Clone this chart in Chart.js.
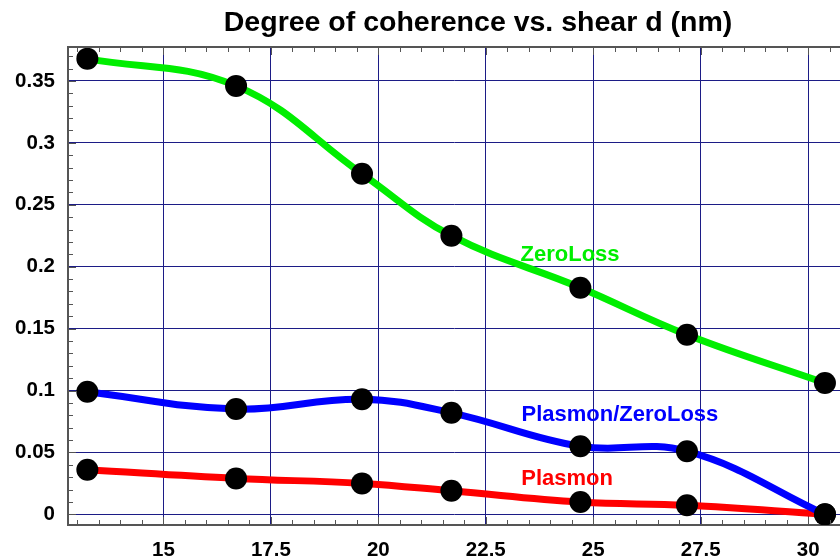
<!DOCTYPE html>
<html>
<head>
<title>Degree of coherence</title>
<style>
html, body { margin:0; padding:0; background:#fff; overflow:hidden; }
canvas { display:block; }
</style>
</head>
<body>
<script src="https://cdn.jsdelivr.net/npm/chart.js"></script>
<canvas id="myChart" width="840" height="560"></canvas>
<script>
// shear d (nm)
var shear = [13.23, 16.69, 19.62, 21.7, 24.7, 27.18, 30.39]
var zeroLoss = [0.368, 0.346, 0.275, 0.225, 0.183, 0.145, 0.106]
var ratio = [0.099, 0.085, 0.093, 0.082, 0.055, 0.051, 0.0]
var plasmon = [0.036, 0.029, 0.025, 0.019, 0.0099, 0.0073, 0.0]
var xTicks = [15, 17.5, 20, 22.5, 25, 27.5, 30]
var yTicks = [0, 0.05, 0.1, 0.15, 0.2, 0.25, 0.3, 0.35]

// curve labels (data units)
var tags = [
    {text: 'ZeroLoss', color: '#00ee00', x: 24.46, y: 0.2097},
    {text: 'Plasmon/ZeroLoss', color: '#0000ff', x: 25.62, y: 0.0806},
    {text: 'Plasmon', color: '#ff0000', x: 24.39, y: 0.029}
]

function pts(ys) {
    return shear.map((x, i) => ({x: x, y: ys[i]}))
}

var FONT = "'Liberation Sans', Arial, sans-serif"
var GRID = '#1c1c86'
var FRAME = '#555555'

// Mathematica-ish frame: minor ticks pointing inward, top frame line, labels, title
const decor = {
    id: 'decor',
    afterDatasetsDraw(chart) {
        const c = chart.ctx, a = chart.chartArea
        const xs = chart.scales.x, ys = chart.scales.y
        c.save()
        c.strokeStyle = FRAME
        c.lineWidth = 2
        c.beginPath()
        c.moveTo(a.left - 1, a.top)
        c.lineTo(a.right, a.top)
        c.stroke()
        c.lineWidth = 1
        c.beginPath()
        for (let v = 12.5; v <= 31; v += 0.5) {
            const px = Math.round(xs.getPixelForValue(v)) + 0.5
            if (px < a.left + 2 || px > a.right) continue
            const len = (v % 2.5 === 0) ? 8 : 5
            c.moveTo(px, a.bottom); c.lineTo(px, a.bottom - len)
            c.moveTo(px, a.top); c.lineTo(px, a.top + len)
        }
        for (let k = -1; k <= 38; k++) {
            const py = Math.round(ys.getPixelForValue(k / 100)) + 0.5
            if (py < a.top + 2 || py > a.bottom - 2) continue
            const len = (k % 5 === 0) ? 8 : 5
            c.moveTo(a.left, py); c.lineTo(a.left + len, py)
        }
        c.stroke()
        c.font = 'bold 22px ' + FONT
        c.textAlign = 'center'
        c.textBaseline = 'middle'
        tags.forEach(t => {
            c.fillStyle = t.color
            c.fillText(t.text, xs.getPixelForValue(t.x), ys.getPixelForValue(t.y))
        })
        c.fillStyle = '#000'
        c.font = 'bold 28.5px ' + FONT
        c.fillText('Degree of coherence vs. shear d (nm)', 478, 23)
        c.restore()
    }
}

function series(label, ys, color) {
    return {
        label: label,
        data: pts(ys),
        borderColor: color,
        borderWidth: 7,
        tension: 0.4,
        pointRadius: 11,
        pointBackgroundColor: '#000',
        pointBorderWidth: 0,
        fill: false
    }
}

const ctx = document.getElementById('myChart').getContext('2d')
const myChart = new Chart(ctx, {
    type: 'line',
    data: {
        datasets: [
            series('ZeroLoss', zeroLoss, '#00ee00'),
            series('Plasmon/ZeroLoss', ratio, '#0000ff'),
            series('Plasmon', plasmon, '#ff0000')
        ]
    },
    plugins: [decor],
    options: {
        responsive: false,
        animation: false,
        layout: {autoPadding: false, padding: {top: 47, left: 0, right: 0, bottom: 0}},
        plugins: {legend: {display: false}, tooltip: {enabled: false}},
        scales: {
            x: {
                type: 'linear',
                min: 12.78,
                max: 30.74,
                afterBuildTicks: s => { s.ticks = xTicks.map(v => ({value: v})) },
                afterFit: s => { s.height = 35; s.paddingLeft = 0; s.paddingRight = 0 },
                grid: {color: GRID, lineWidth: 1, drawTicks: false},
                border: {color: FRAME, width: 2},
                ticks: {
                    color: '#000',
                    padding: 13,
                    maxRotation: 0,
                    font: {family: FONT, size: 20.5, weight: 'bold'},
                    callback: v => String(v)
                }
            },
            y: {
                min: -0.0086,
                max: 0.3774,
                afterBuildTicks: s => { s.ticks = yTicks.map(v => ({value: v})) },
                afterFit: s => { s.width = 68; s.paddingTop = 0; s.paddingBottom = 0 },
                grid: {color: GRID, lineWidth: 1, drawTicks: false},
                border: {color: FRAME, width: 2},
                ticks: {
                    color: '#000',
                    padding: 13,
                    font: {family: FONT, size: 20.5, weight: 'bold'},
                    callback: v => String(v)
                }
            }
        }
    }
})
</script>
</body>
</html>
